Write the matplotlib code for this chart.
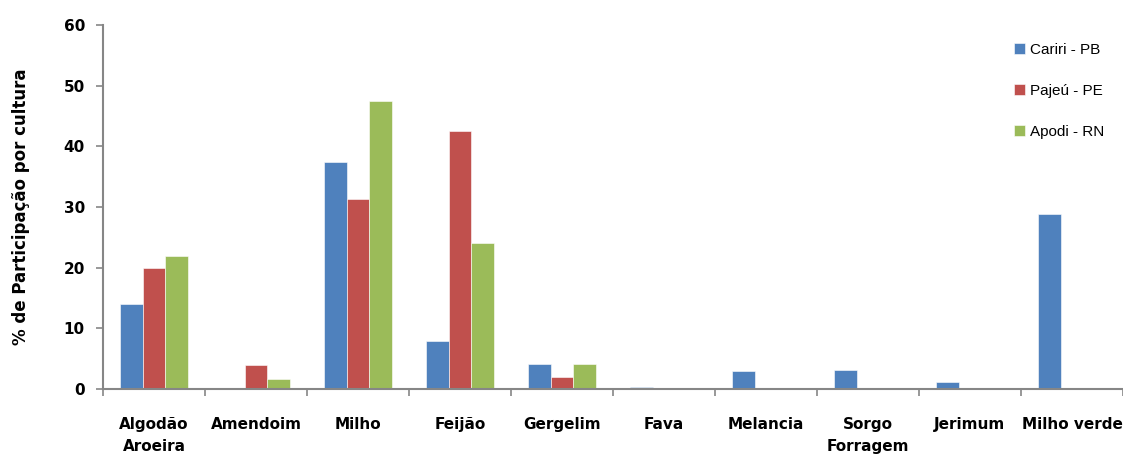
import matplotlib
matplotlib.use("Agg")
import matplotlib.pyplot as plt
import numpy as np

categories = ["Algodão\nAroeira", "Amendoim", "Milho", "Feijão", "Gergelim",
              "Fava", "Melancia", "Sorgo\nForragem", "Jerimum", "Milho verde"]
cariri = [14.0, 0, 37.4, 7.9, 4.2, 0.4, 2.9, 3.2, 1.1, 28.8]
pajeu = [20.0, 4.0, 31.4, 42.6, 1.9, 0, 0, 0, 0, 0]
apodi = [22.0, 1.7, 47.5, 24.1, 4.2, 0, 0, 0, 0, 0]
series_names = ["Cariri - PB", "Pajeú - PE", "Apodi - RN"]
colors = ["#4F81BD", "#C0504D", "#9BBB59"]
yticks = [0, 10, 20, 30, 40, 50, 60]

bold_font = ["DejaVu Sans"]

fig = plt.figure(figsize=(11.23, 4.58), dpi=100)
ax = fig.add_axes([0.0917, 0.1507, 0.9083, 0.7947])

x = np.arange(len(categories))
w = 0.222
for i, (vals, name, c) in enumerate(zip([cariri, pajeu, apodi], series_names, colors)):
    ax.bar(x + (i - 1) * w, vals, width=w, color=c, label=name,
           edgecolor="white", linewidth=0.4)

ax.set_xlim(-0.5, len(categories) - 0.5)
ax.set_ylim(0, 60)
ax.set_yticks(yticks)
ax.set_yticklabels([str(v) for v in yticks], fontfamily=bold_font,
                   fontweight="bold", fontsize=11)

ax.set_xticks(x)
ax.set_xticklabels(categories, fontfamily=bold_font, fontweight="bold",
                   fontsize=11, linespacing=1.6, va="top")
ax.tick_params(axis="x", which="major", length=0, pad=20)
ax.set_xticks(np.arange(-0.5, len(categories), 1.0), minor=True)
ax.tick_params(axis="x", which="minor", length=5, width=1.2, color="#868686",
               direction="out")
ax.tick_params(axis="y", length=5, width=1.2, color="#868686", pad=8)

for side in ["top", "right"]:
    ax.spines[side].set_visible(False)
for side in ["left", "bottom"]:
    ax.spines[side].set_color("#868686")
    ax.spines[side].set_linewidth(1.5)

ax.set_ylabel("% de Participação por cultura", fontfamily=bold_font,
              fontweight="bold", fontsize=12, labelpad=24)

leg = fig.legend(loc="upper left", bbox_to_anchor=(0.903, 0.907),
                 bbox_transform=fig.transFigure,
                 frameon=False, handlelength=0.7, handleheight=0.7,
                 handletextpad=0.35, labelspacing=1.78, borderpad=0,
                 borderaxespad=0,
                 prop={"family": ["Liberation Sans", "DejaVu Sans"],
                       "size": 11})

fig.savefig("out.png", dpi=100, facecolor="white")
